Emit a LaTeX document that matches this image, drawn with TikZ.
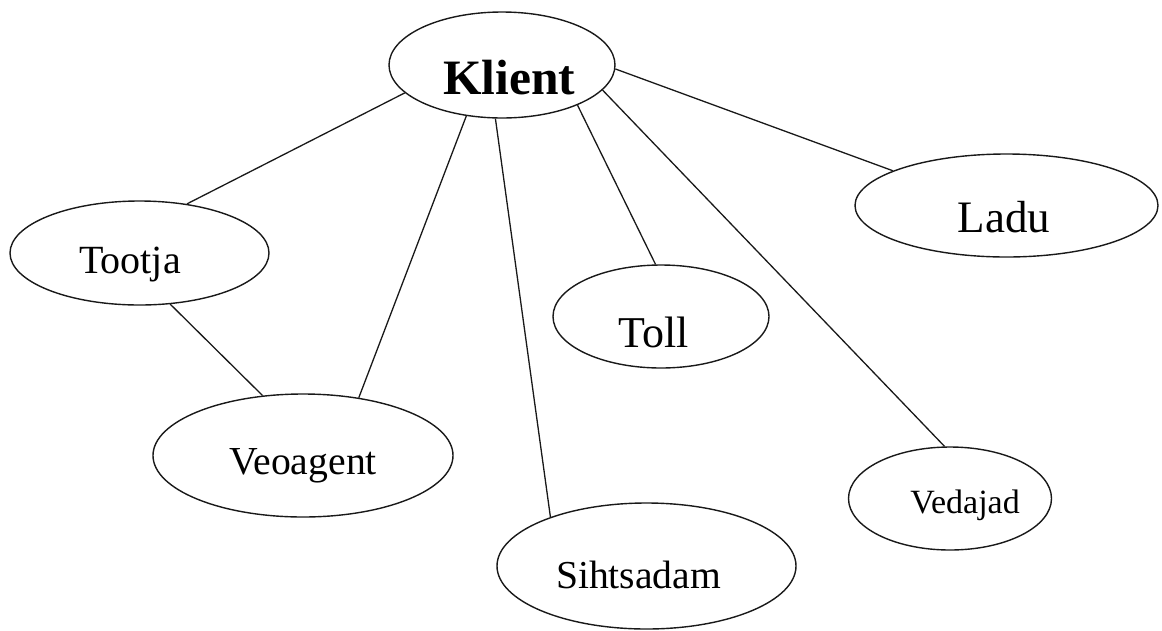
\documentclass[tikz,border=0pt]{standalone}
\usepackage{fontspec}
\setmainfont{Liberation Serif}
\usetikzlibrary{shapes.geometric}
\tikzset{
  oval/.style={ellipse, draw=black!90, line width=1.4pt, inner sep=0pt},
  link/.style={draw=black!90, line width=1.3pt},
  txt/.style={anchor=base, inner sep=0pt}
}
\newcommand{\fs}[1]{\fontsize{#1}{#1}\selectfont}
\begin{document}
\begin{tikzpicture}[x=1pt,y=-1pt]
\useasboundingbox[fill=white] (0,0) rectangle (1162,630);

% ellipses with their captions
\node[oval, minimum width=226pt, minimum height=106pt,
  label={[txt, xshift=7pt, yshift=-13pt, font=\fs{49.5}\bfseries]center:Klient}]
  (klient) at (502,65) {};
\node[oval, minimum width=259pt, minimum height=104pt,
  label={[txt, xshift=-9.5pt, yshift=-12pt, font=\fs{40}]center:Tootja}]
  (tootja) at (139.5,253) {};
\node[oval, minimum width=303pt, minimum height=103pt,
  label={[txt, xshift=-2.5pt, yshift=-11.5pt, font=\fs{45}]center:Ladu}]
  (ladu) at (1006.5,205.5) {};
\node[oval, minimum width=216pt, minimum height=103pt,
  label={[txt, xshift=-7.5pt, yshift=-15.5pt, font=\fs{44}]center:Toll}]
  (toll) at (661,316.5) {};
\node[oval, minimum width=300pt, minimum height=123pt,
  label={[txt, xshift=0pt, yshift=-10.5pt, font=\fs{39.7}]center:Veoagent}]
  (veoagent) at (303,455.5) {};
\node[oval, minimum width=299pt, minimum height=126pt,
  label={[txt, xshift=-8pt, yshift=-9pt, font=\fs{39.6}]center:Sihtsadam}]
  (sihtsadam) at (646.5,566) {};
\node[oval, minimum width=203pt, minimum height=103pt,
  label={[txt, xshift=15pt, yshift=-6.5pt, font=\fs{34}]center:Vedajad}]
  (vedajad) at (950,498.5) {};

% connectors
\draw[link] (klient.196.3) -- (tootja.46.5);
\draw[link] (klient.235.2) -- (veoagent.46.2);
\draw[link] (klient.263)   -- (sihtsadam.153.8);
\draw[link] (klient.332.9) -- (toll.96.6);
\draw[link] (klient.346.5) -- (vedajad.96.4);
\draw[link] (klient.358.5) -- (ladu.163.9);
\draw[link] (tootja.301.8) -- (veoagent.124.1);
\end{tikzpicture}
\end{document}
